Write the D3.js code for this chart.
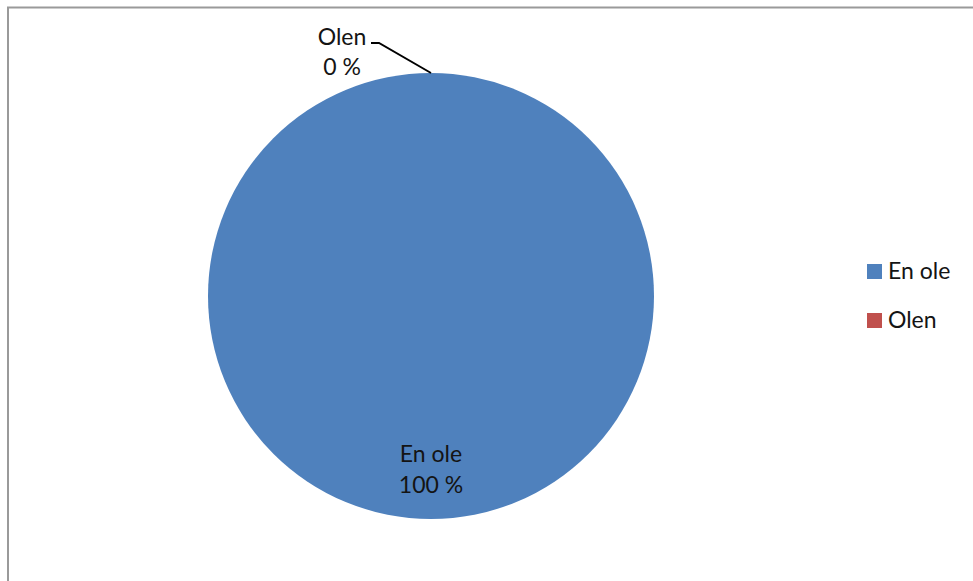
<!DOCTYPE html>
<html>
<head>
<meta charset="utf-8">
<script src="https://cdn.jsdelivr.net/npm/d3@7"></script>
<style>
  html, body { margin: 0; padding: 0; background: #fff; }
  svg { display: block; }
  text { font-family: Lato, "Open Sans", sans-serif; fill: #141414; }
</style>
</head>
<body>
<svg id="chart" width="973" height="581"></svg>
<script>
// Survey answers and their shares (percent)
const categories = ["En ole", "Olen"];
const values = [100, 0];
const colors = ["#4F81BD", "#C0504D"];

const svg = d3.select("#chart");
const W = 973, H = 581;

// Chart frame
svg.append("rect")
  .attr("x", 8).attr("y", 7.5)
  .attr("width", W).attr("height", H)
  .attr("fill", "#fff")
  .attr("stroke", "#9a9a9a")
  .attr("stroke-width", 2);

const cx = 431, cy = 296, r = 223;
const color = d3.scaleOrdinal().domain(categories).range(colors);

const pie = d3.pie().sort(null).value(d => d.value);
const data = pie(categories.map((c, i) => ({ name: c, value: values[i] })));
const arc = d3.arc().innerRadius(0).outerRadius(r);

const g = svg.append("g").attr("transform", `translate(${cx},${cy})`);

g.selectAll("path.slice")
  .data(data.filter(d => d.value > 0))
  .join("path")
  .attr("class", "slice")
  .attr("d", arc)
  .attr("fill", d => color(d.data.name));

const fmt = v => `${v} %`;
const fs = "23px";

// Labels: large slice gets label inside, zero slice gets a leader line
data.forEach(d => {
  const mid = (d.startAngle + d.endAngle) / 2;
  if (d.value > 0) {
    const lr = r * 0.82;
    const x = Math.sin(mid) * lr, y = -Math.cos(mid) * lr;
    const t = g.append("text").attr("text-anchor", "middle").style("font-size", fs);
    t.append("tspan").attr("x", x).attr("y", y - 17).text(d.data.name);
    t.append("tspan").attr("x", x).attr("y", y + 14).text(fmt(d.data.value));
  } else {
    const p0 = [Math.sin(mid) * r, -Math.cos(mid) * r];
    const p1 = [p0[0] - 52, p0[1] - 30];
    const p2 = [p1[0] - 8, p1[1]];
    g.append("path")
      .attr("d", d3.line()([p0, p1, p2]))
      .attr("fill", "none")
      .attr("stroke", "#000")
      .attr("stroke-width", 2);
    const t = g.append("text").attr("text-anchor", "middle").style("font-size", fs);
    t.append("tspan").attr("x", p2[0] - 29).attr("y", p2[1] + 2).text(d.data.name);
    t.append("tspan").attr("x", p2[0] - 29).attr("y", p2[1] + 32).text(fmt(d.data.value));
  }
});

// Legend
const legend = svg.append("g").attr("transform", "translate(867,264)");
const item = legend.selectAll("g")
  .data(categories)
  .join("g")
  .attr("transform", (d, i) => `translate(0,${i * 49})`);
item.append("rect")
  .attr("width", 15).attr("height", 15)
  .attr("fill", d => color(d));
item.append("text")
  .attr("x", 21).attr("y", 15)
  .style("font-size", fs)
  .text(d => d);
</script>
</body>
</html>
